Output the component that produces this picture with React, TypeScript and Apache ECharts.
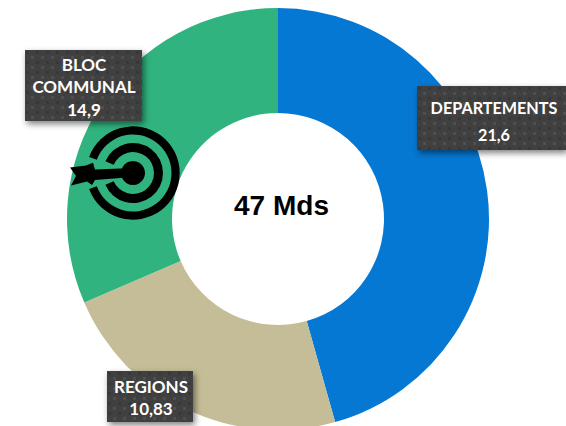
import React, { useEffect, useRef } from "react";
import * as echarts from "echarts";

const categories = ["DEPARTEMENTS", "REGIONS", "BLOC\nCOMMUNAL"];
const values = [21.6, 10.83, 14.9];
const colors = ["#0578D3", "#C4BD97", "#30B37E"];
const centerText = "47 Mds";

// label boxes: centre x, centre y, width, height, font size, line height, text centre
const boxes = [
  { x: 491.5, y: 118, w: 149, h: 64, fs: 16.2, lh: 27, tx: 494, ty: 120.5 },
  { x: 150, y: 396.5, w: 86, h: 51, fs: 17, lh: 22, tx: 151, ty: 397 },
  { x: 83.5, y: 85.5, w: 117, h: 71, fs: 17, lh: 22.5, tx: 84, ty: 86.5 },
];

function texture(w: number, h: number) {
  const c = document.createElement("canvas");
  c.width = w;
  c.height = h;
  const g = c.getContext("2d")!;
  g.fillStyle = "#404040";
  g.fillRect(0, 0, w, h);
  for (let y = 1, row = 0; y < h; y += 5, row++) {
    for (let x = row % 2 ? 6 : 1; x < w; x += 10) {
      g.fillStyle = row % 2 ? "#505050" : "#383838";
      g.fillRect(x, y, 3, 3);
    }
  }
  return c;
}

const ringSector = (r0: number, r: number, gap: number, cx: number, cy: number) => ({
  type: "sector",
  shape: {
    cx,
    cy,
    r0,
    r,
    startAngle: Math.PI + gap,
    endAngle: Math.PI * 3 - gap,
    clockwise: true,
  },
  style: { fill: "#000" },
  z: 5,
});

export default function App() {
  const ref = useRef<HTMLDivElement>(null);
  useEffect(() => {
    const chart = echarts.init(ref.current!, undefined, { renderer: "svg" });
    const cx = 133;
    const cy = 173;
    chart.setOption({
      animation: false,
      series: [
        {
          type: "pie",
          center: [278, 219],
          radius: [106, 211],
          startAngle: 90,
          clockwise: true,
          avoidLabelOverlap: false,
          silent: true,
          labelLine: { show: false },
          data: categories.map((name, i) => ({
            name,
            value: values[i],
            itemStyle: { color: colors[i] },
            label: {
              show: true,
              formatter: `${name}\n${String(values[i]).replace(".", ",")}`,
              color: "#fff",
              fontFamily: "Lato",
              fontWeight: "bold",
              fontSize: boxes[i].fs,
              lineHeight: boxes[i].lh,
              align: "center",
              verticalAlign: "middle",
            },
          })),
          labelLayout: (p: any) => ({
            x: boxes[p.dataIndex].tx,
            y: boxes[p.dataIndex].ty,
            align: "center",
            verticalAlign: "middle",
          }),
        },
      ],
      graphic: [
        ...boxes.map((b) => ({
          type: "rect",
          z: 2,
          z2: 2.5,
          shape: { x: b.x - b.w / 2, y: b.y - b.h / 2, width: b.w, height: b.h },
          style: {
            fill: { image: texture(b.w, b.h), repeat: "no-repeat", x: b.x - b.w / 2, y: b.y - b.h / 2 },
            shadowColor: "rgba(0,0,0,0.5)",
            shadowBlur: 6,
            shadowOffsetX: 2,
            shadowOffsetY: 3,
          },
        })),
        {
          type: "text",
          x: 281.5,
          y: 205,
          style: {
            text: centerText,
            fill: "#000",
            font: "bold 28px 'Liberation Sans'",
            textAlign: "center",
            textVerticalAlign: "middle",
          },
          z: 5,
        },
        ringSector(38.5, 46.7, 0.35, cx, cy),
        ringSector(21, 30, 0.4, cx, cy),
        { type: "circle", shape: { cx, cy, r: 12 }, style: { fill: "#000" }, z: 5 },
        {
          type: "polygon",
          shape: {
            points: [
              [70, 167.5],
              [86, 165.5],
              [93, 162.7],
              [95, 169.5],
              [133, 168],
              [133, 177],
              [95, 180],
              [92, 185],
              [87, 181.5],
              [71, 185.5],
              [76, 176],
            ],
          },
          style: { fill: "#000" },
          z: 5,
        },
      ],
    });
    return () => chart.dispose();
  }, []);
  return (
    <div
      ref={ref}
      style={{ position: "fixed", left: 0, top: 0, width: 566, height: 426, background: "#fff" }}
    />
  );
}
